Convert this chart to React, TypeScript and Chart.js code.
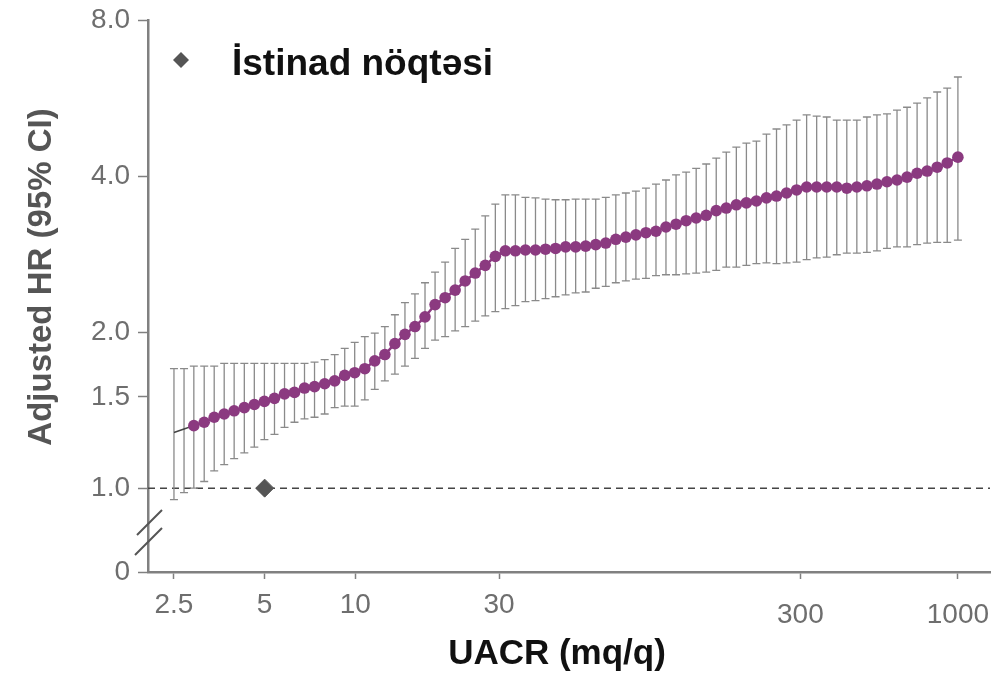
import React, { useEffect, useRef } from 'react';
import { Chart, registerables } from 'chart.js';

Chart.register(...registerables);

// UACR (mg/g) positions of the estimates
const uacr = [
  2.5, 2.7, 2.91, 3.15, 3.4, 3.67, 3.96, 4.28, 4.62, 4.99,
  5.39, 5.82, 6.28, 6.78, 7.32, 7.91, 8.54, 9.22, 9.95, 10.75,
  11.6, 12.53, 13.53, 14.61, 15.77, 17.03, 18.39, 19.86, 21.44, 23.15,
  25.0, 26.99, 29.15, 31.47, 33.98, 36.69, 39.62, 42.78, 46.19, 49.88,
  53.86, 58.15, 62.79, 67.8, 73.21, 79.05, 85.35, 92.16, 99.51, 107.4,
  116, 125.3, 135.3, 146.1, 157.7, 170.3, 183.9, 198.6, 214.4, 231.5,
  250, 269.9, 291.5, 314.7, 339.8, 366.9, 396.2, 427.8, 461.9, 498.8,
  538.6, 581.5, 627.9, 678, 732.1, 790.5, 853.5, 921.6, 1000,
];

// Adjusted hazard ratio
const hr = [
  1.28, 1.3, 1.32, 1.34, 1.37, 1.39, 1.41, 1.43, 1.45, 1.47,
  1.49, 1.52, 1.53, 1.56, 1.57, 1.59, 1.61, 1.65, 1.67, 1.7,
  1.76, 1.81, 1.9, 1.98, 2.05, 2.14, 2.26, 2.33, 2.41, 2.51,
  2.6, 2.69, 2.8, 2.87, 2.87, 2.88, 2.88, 2.89, 2.9, 2.92,
  2.92, 2.93, 2.95, 2.97, 3.02, 3.05, 3.08, 3.11, 3.13, 3.19,
  3.23, 3.28, 3.32, 3.36, 3.43, 3.47, 3.52, 3.55, 3.58, 3.63,
  3.66, 3.71, 3.76, 3.81, 3.81, 3.81, 3.81, 3.79, 3.81, 3.83,
  3.86, 3.9, 3.93, 3.98, 4.05, 4.09, 4.16, 4.24, 4.35,
];

// 95% CI lower bound
const ciLow = [
  0.95, 0.98, 1.0, 1.03, 1.08, 1.11, 1.14, 1.17, 1.2, 1.24,
  1.27, 1.31, 1.34, 1.36, 1.37, 1.39, 1.43, 1.44, 1.44, 1.48,
  1.55, 1.61, 1.66, 1.72, 1.78, 1.86, 1.93, 1.96, 2.01, 2.05,
  2.1, 2.15, 2.19, 2.22, 2.25, 2.29, 2.3, 2.32, 2.34, 2.36,
  2.38, 2.39, 2.43, 2.45, 2.49, 2.51, 2.53, 2.54, 2.57, 2.58,
  2.58, 2.59, 2.6, 2.61, 2.63, 2.67, 2.67, 2.69, 2.71, 2.72,
  2.71, 2.72, 2.73, 2.76, 2.78, 2.79, 2.82, 2.84, 2.84, 2.85,
  2.87, 2.9, 2.92, 2.92, 2.95, 2.97, 2.98, 2.98, 3.01,
];

// 95% CI upper bound
const ciHigh = [
  1.7, 1.7, 1.72, 1.72, 1.72, 1.74, 1.74, 1.74, 1.74, 1.74,
  1.74, 1.74, 1.74, 1.74, 1.75, 1.77, 1.81, 1.86, 1.91, 1.96,
  1.99, 2.05, 2.16, 2.28, 2.37, 2.49, 2.61, 2.73, 2.9, 3.02,
  3.16, 3.35, 3.53, 3.68, 3.68, 3.64, 3.63, 3.61, 3.6, 3.6,
  3.61, 3.61, 3.61, 3.64, 3.68, 3.71, 3.74, 3.79, 3.86, 3.93,
  4.02, 4.07, 4.14, 4.22, 4.33, 4.45, 4.55, 4.63, 4.67, 4.82,
  4.93, 5.02, 5.13, 5.25, 5.22, 5.2, 5.13, 5.13, 5.13, 5.2,
  5.25, 5.27, 5.36, 5.43, 5.53, 5.66, 5.81, 5.91, 6.21,
];

const xTickValues = [2.5, 5, 10, 30, 300, 1000];
const yTickValues = [1, 1.5, 2, 4, 8];
const yBreakValue = 0.689; // bottom of the broken axis, labelled "0"
const refX = [5];
const refY = [1];
const refLineValue = 1;
const xMin = 2.05;
const xMax = 1278;
const yMax = 8;

const legendLabel = 'İstinad nöqtəsi';
const xTitle = 'UACR (mq/q)';
const yTitle = 'Adjusted HR (95% CI)';

const FONT = '"Liberation Sans", Arial, sans-serif';
const PURPLE = '#8b3a80';
const AXIS = '#808080';

const decorPlugin = {
  id: 'decor',
  beforeDatasetsDraw(chart: any) {
    const { ctx, chartArea, scales } = chart;
    const x = scales.x;
    const y = scales.y;
    ctx.save();
    // reference dashed line at HR = 1
    const y1 = y.getPixelForValue(refLineValue);
    ctx.strokeStyle = '#444';
    ctx.lineWidth = 1.5;
    ctx.setLineDash([7, 5]);
    ctx.beginPath();
    ctx.moveTo(chartArea.left, y1);
    ctx.lineTo(chartArea.right, y1);
    ctx.stroke();
    ctx.setLineDash([]);
    // error bars
    ctx.strokeStyle = '#8a8a8a';
    ctx.lineWidth = 1.3;
    const cap = 4;
    uacr.forEach((v, i) => {
      const px = x.getPixelForValue(v);
      const pl = y.getPixelForValue(ciLow[i]);
      const ph = y.getPixelForValue(ciHigh[i]);
      ctx.beginPath();
      ctx.moveTo(px, pl);
      ctx.lineTo(px, ph);
      ctx.moveTo(px - cap, pl);
      ctx.lineTo(px + cap, pl);
      ctx.moveTo(px - cap, ph);
      ctx.lineTo(px + cap, ph);
      ctx.stroke();
    });
    ctx.restore();
  },
  afterDraw(chart: any) {
    const { ctx, chartArea, scales } = chart;
    const x = scales.x;
    ctx.save();
    // axis break marks
    ctx.strokeStyle = '#555';
    ctx.lineWidth = 2;
    const L = chartArea.left;
    const B = chartArea.bottom;
    ctx.beginPath();
    ctx.moveTo(L + 14, B - 62);
    ctx.lineTo(L - 11, B - 37);
    ctx.moveTo(L + 14, B - 44);
    ctx.lineTo(L - 13, B - 17);
    ctx.stroke();

    // x tick labels
    ctx.fillStyle = '#6e6e6e';
    ctx.font = `28px ${FONT}`;
    ctx.textAlign = 'center';
    ctx.textBaseline = 'middle';
    xTickValues.forEach((v) => {
      const px = x.getPixelForValue(v);
      const py = v >= 100 ? B + 43 : B + 33;
      ctx.fillText(String(v), px, py);
    });

    // x title
    ctx.fillStyle = '#111';
    ctx.font = `bold 35px ${FONT}`;
    ctx.textBaseline = 'alphabetic';
    ctx.fillText(xTitle, 557, 664);

    // y title
    ctx.save();
    ctx.translate(51, 277);
    ctx.rotate(-Math.PI / 2);
    ctx.fillStyle = '#555';
    ctx.font = `bold 33px ${FONT}`;
    ctx.textAlign = 'center';
    ctx.textBaseline = 'alphabetic';
    ctx.fillText(yTitle, 0, 0);
    ctx.restore();

    // legend
    const lx = 181;
    const ly = 60;
    ctx.fillStyle = '#555';
    ctx.beginPath();
    ctx.moveTo(lx, ly - 8);
    ctx.lineTo(lx + 8, ly);
    ctx.lineTo(lx, ly + 8);
    ctx.lineTo(lx - 8, ly);
    ctx.closePath();
    ctx.fill();
    ctx.fillStyle = '#111';
    ctx.font = `bold 37px ${FONT}`;
    ctx.textAlign = 'left';
    ctx.textBaseline = 'alphabetic';
    ctx.fillText(legendLabel, 232, 75);
    ctx.restore();
  },
};

export default function App() {
  const ref = useRef<HTMLCanvasElement | null>(null);

  useEffect(() => {
    if (!ref.current) return;
    const chart = new Chart(ref.current, {
      type: 'line',
      data: {
        datasets: [
          {
            type: 'line',
            data: uacr.map((v, i) => ({ x: v, y: hr[i] })),
            borderColor: PURPLE,
            backgroundColor: PURPLE,
            borderWidth: 2.5,
            pointRadius: uacr.map((_, i) => (i < 2 ? 0 : 5.8)),
            pointBackgroundColor: PURPLE,
            pointBorderColor: PURPLE,
            pointBorderWidth: 0,
            tension: 0,
            clip: false,
            segment: {
              borderColor: (c: any) => (c.p0DataIndex < 2 ? '#444' : PURPLE),
              borderWidth: (c: any) => (c.p0DataIndex < 2 ? 1.5 : 2.5),
            },
            order: 2,
          } as any,
          {
            type: 'scatter',
            data: refX.map((v, i) => ({ x: v, y: refY[i] })),
            pointStyle: 'rectRot',
            pointRadius: 9,
            backgroundColor: '#555',
            borderColor: '#555',
            showLine: false,
            clip: false,
            order: 1,
          } as any,
        ],
      },
      options: {
        responsive: false,
        animation: false,
        layout: { autoPadding: false, padding: { top: 20, right: 2, left: 0, bottom: 0 } },
        plugins: {
          legend: { display: false },
          tooltip: { enabled: false },
        },
        scales: {
          x: {
            type: 'logarithmic',
            min: xMin,
            max: xMax,
            afterBuildTicks: (s: any) => {
              s.ticks = xTickValues.map((v) => ({ value: v }));
            },
            afterFit: (s: any) => {
              s.height = 109;
              s.paddingLeft = 0;
              s.paddingRight = 0;
            },
            ticks: { display: false, autoSkip: false },
            grid: {
              drawOnChartArea: false,
              drawTicks: true,
              tickLength: 7,
              color: AXIS,
              tickColor: AXIS,
              tickWidth: 1.5,
            },
            border: { color: AXIS, width: 2.5 },
          },
          y: {
            type: 'logarithmic',
            min: yBreakValue,
            max: yMax,
            afterBuildTicks: (s: any) => {
              s.ticks = [yBreakValue, ...yTickValues].map((v) => ({ value: v }));
            },
            afterFit: (s: any) => {
              s.width = 148;
              s.paddingTop = 0;
              s.paddingBottom = 0;
            },
            ticks: {
              autoSkip: false,
              padding: 8,
              color: '#6e6e6e',
              font: { size: 28, family: FONT },
              callback: (v: any) => (v === yBreakValue ? '0' : Number(v).toFixed(1)),
            },
            grid: {
              drawOnChartArea: false,
              drawTicks: true,
              tickLength: 10,
              color: AXIS,
              tickColor: AXIS,
              tickWidth: 1.5,
            },
            border: { color: AXIS, width: 2.5 },
          },
        },
      } as any,
      plugins: [decorPlugin],
    });
    return () => chart.destroy();
  }, []);

  return (
    <div
      style={{
        position: 'fixed',
        left: 0,
        top: 0,
        width: 992,
        height: 681,
        background: '#fff',
      }}
    >
      <canvas ref={ref} width={992} height={681} style={{ display: 'block' }} />
    </div>
  );
}
